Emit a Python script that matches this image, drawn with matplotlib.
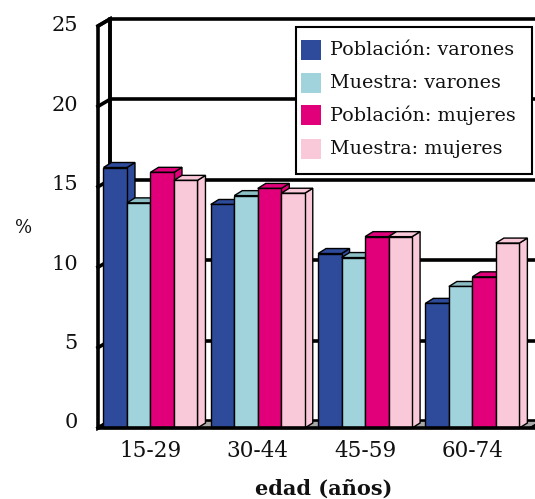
import numpy as np
import matplotlib.pyplot as plt
from matplotlib.patches import Polygon, Rectangle

categorias = ['15-29', '30-44', '45-59', '60-74']
series = ['Población: varones', 'Muestra: varones', 'Población: mujeres', 'Muestra: mujeres']
pob_varones = [16.2, 13.9, 10.85, 7.75]
mue_varones = [14.0, 14.45, 10.6, 8.8]
pob_mujeres = [15.9, 14.9, 11.9, 9.4]
mue_mujeres = [15.4, 14.6, 11.9, 11.5]
colores = ['#2E4A9B', '#A0D3DC', '#E2007A', '#F9C8D9']
colores_top = ['#2E4A9B', '#8CBEC6', '#E2007A', '#F9C8D9']
yticks = [0, 5, 10, 15, 20, 25]

valores = [pob_varones, mue_varones, pob_mujeres, mue_mujeres]

plt.rcParams['font.family'] = ['DejaVu Serif']

W, H = 535, 499
fig = plt.figure(figsize=(W / 100, H / 100), dpi=100)
# front plane of the chart, in pixels: x 98..530, y 26..428
ax = fig.add_axes([98 / W, 1 - 428 / H, 432 / W, 402 / H])
xmin, xmax = -0.489, 3.537
ymin, ymax = 0, 25
ax.set_xlim(xmin, xmax)
ax.set_ylim(ymin, ymax)
ax.axis('off')

# pixel sizes in data units
px = (xmax - xmin) / 432
py = (ymax - ymin) / 402
wdx, wdy = 12 * px, 7 * py     # depth of the walls
bdx, bdy = 8 * px, 5 * py      # depth of the bars
lw_wall = 2.6


def poly(pts, fc, ec='black', lw=1.0, z=1):
    p = Polygon(pts, closed=True, facecolor=fc, edgecolor=ec, linewidth=lw,
                zorder=z, clip_on=False, joinstyle='miter')
    ax.add_patch(p)


xr = xmax + 20 * px
# back wall
poly([(xmin + wdx, wdy), (xmin + wdx, ymax + wdy), (xr, ymax + wdy), (xr, wdy)],
     'white', ec='none', z=0)
# left wall
poly([(xmin, 0), (xmin, ymax), (xmin + wdx, ymax + wdy), (xmin + wdx, wdy)],
     'white', ec='black', lw=lw_wall, z=1)
# floor
poly([(xmin, 0), (xmax, 0), (xmax + wdx, wdy), (xmin + wdx, wdy)],
     '#A8A8A8', ec='black', lw=1.2, z=1)
ax.plot([xmin, xmax + wdx], [0, 0], color='black', lw=lw_wall, zorder=6,
        clip_on=False, solid_capstyle='butt')
ax.plot([xmax, xmax + wdx], [0, wdy], color='black', lw=1.5, zorder=6, clip_on=False)

# gridlines on the back wall and left wall
for v in yticks:
    ax.plot([xmin + wdx, xr], [v + wdy, v + wdy], color='black', lw=lw_wall,
            zorder=0.5, clip_on=False, solid_capstyle='butt')
    ax.plot([xmin, xmin + wdx], [v, v + wdy], color='black', lw=lw_wall,
            zorder=1.5, clip_on=False)
    ax.text(xmin - 20 * px, v * 0.988 + 5 * py, str(v), ha='right', va='center',
            fontsize=15, color='#111111')
ax.plot([xmin + wdx, xmin + wdx], [wdy, ymax + wdy], color='black', lw=lw_wall,
        zorder=1.5, clip_on=False)

# bars
nser = len(series)
bw = 0.219
for i in range(len(categorias)):
    for s in range(nser):
        v = valores[s][i]
        x0 = i - nser * bw / 2 + s * bw
        x1 = x0 + bw
        c = colores[s]
        poly([(x1, 0), (x1 + bdx, bdy), (x1 + bdx, v + bdy), (x1, v)], c, z=2)
        poly([(x0, v), (x0 + bdx, v + bdy), (x1 + bdx, v + bdy), (x1, v)],
             colores_top[s], z=2)
        poly([(x0, 0), (x0, v), (x1, v), (x1, 0)], c, z=2)

# category labels
for i, lab in enumerate(categorias):
    ax.text(i, -1.45, lab, ha='center', va='center', fontsize=15.5, color='#111111')

fig.text(324 / W, 1 - 489 / H, 'edad (años)', ha='center', va='center',
         fontsize=15, fontweight='bold', color='#111111')
fig.text(24 / W, 1 - 228 / H, '%', ha='center', va='center', fontsize=13, color='#111111')

# legend box (figure pixels)
leg_box = Rectangle((296 / W, 1 - 174 / H), 236 / W, 147 / H, transform=fig.transFigure,
                    facecolor='white', edgecolor='black', linewidth=1.5, zorder=10)
fig.add_artist(leg_box)
filas = [50, 83, 115, 149]
for s, nombre in enumerate(series):
    yc = 1 - filas[s] / H
    fig.add_artist(Rectangle((301 / W, yc - 10 / H), 20 / W, 20 / H,
                             transform=fig.transFigure, facecolor=colores[s],
                             edgecolor='none', zorder=11))
    fig.text(330 / W, yc, nombre, ha='left', va='center', fontsize=13.8,
             color='#111111', zorder=12)

fig.savefig('out.png', dpi=100)
